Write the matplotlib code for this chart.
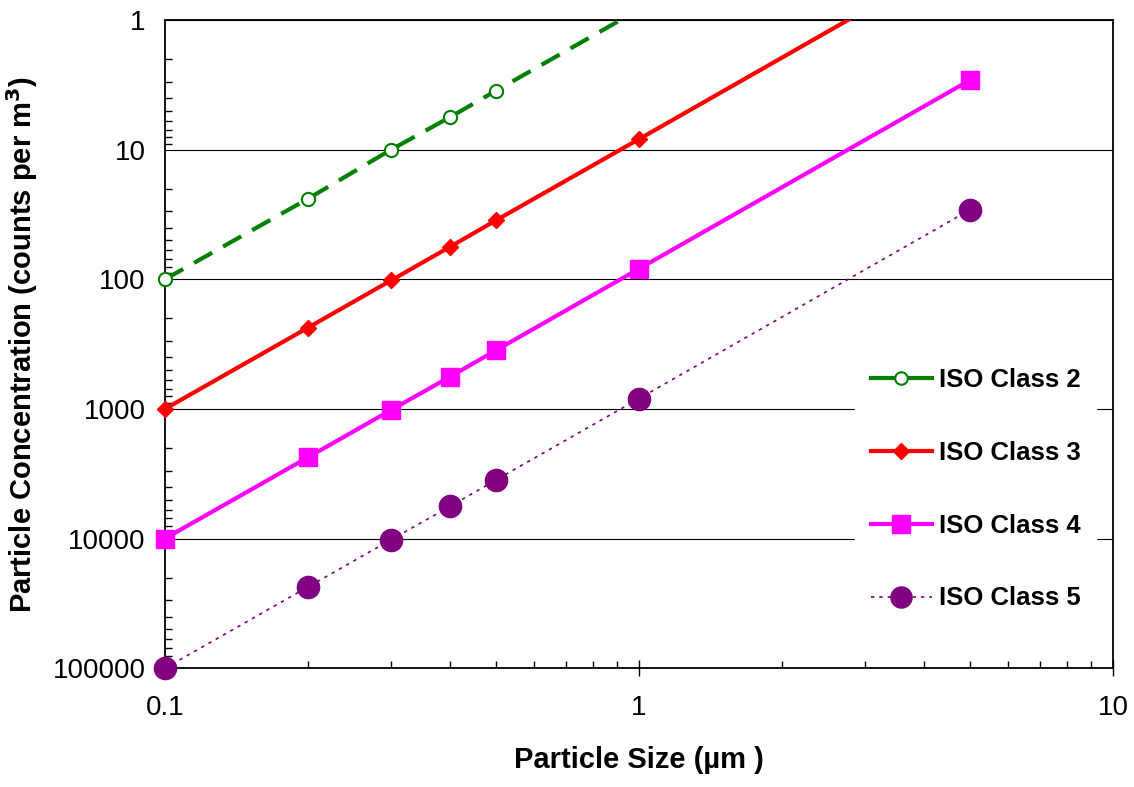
import numpy as np
import matplotlib.pyplot as plt
from matplotlib.lines import Line2D
import matplotlib as mpl

mpl.rcParams['font.family'] = ['Liberation Sans', 'DejaVu Sans']

sizes = [0.1, 0.2, 0.3, 0.4, 0.5, 1, 5]
class2 = [100, 24, 10, 5.6, 3.5, 0.83, 0.029]
class3 = [1000, 237, 102, 56, 35, 8.3, 0.29]
class4 = [10000, 2370, 1020, 563, 352, 83, 2.9]
class5 = [100000, 23700, 10200, 5630, 3520, 832, 29]
labels = ['ISO Class 2', 'ISO Class 3', 'ISO Class 4', 'ISO Class 5']
yticks = [1, 10, 100, 1000, 10000, 100000]
xticks = [0.1, 1, 10]

fig = plt.figure(figsize=(11.34, 7.87), dpi=100)
ax = fig.add_axes([0.1455, 0.151, 0.836, 0.8236])

styles = [
    dict(color='#008000', lw=3, ls=(0, (5, 3)), marker='o', ms=9.5, mfc='white', mew=1.5),
    dict(color='#FF0000', lw=3, ls='-', marker='D', ms=8.5, mfc='#FF0000', mew=1),
    dict(color='#FF00FF', lw=3, ls='-', marker='s', ms=13, mfc='#FF00FF', mew=1),
    dict(color='#800080', lw=1.2, ls=(0, (2, 3)), marker='o', ms=16, mfc='#800080', mew=1),
]
series = [class2, class3, class4, class5]

handles = []
for vals, st, lab in zip(series, styles, labels):
    ax.plot(sizes, vals, color=st['color'], lw=st['lw'], ls=st['ls'], zorder=3)
    shown = np.ma.masked_less(np.array(vals, dtype=float), 1)
    ax.plot(sizes, shown, ls='none', marker=st['marker'], ms=st['ms'], mfc=st['mfc'],
            mec=st['color'], mew=st['mew'], clip_on=False, zorder=4)
    hls = '-' if st['lw'] > 2 else (0, (2, 3))
    handles.append(Line2D([], [], color=st['color'], lw=st['lw'], ls=hls, marker=st['marker'],
                          ms=st['ms'] * 0.95, mfc=st['mfc'], mec=st['color'], mew=st['mew']))

ax.set_xscale('log'); ax.set_yscale('log')
ax.set_xlim(0.1, 10); ax.set_ylim(100000, 1)
ax.set_xticks(xticks); ax.set_xticklabels(['0.1', '1', '10'])
ax.set_yticks(yticks); ax.set_yticklabels([str(v) for v in yticks])
ax.yaxis.grid(True, which='major', color='black', lw=0.8)
ax.set_axisbelow(True)
ax.tick_params(axis='x', which='major', direction='inout', length=11, width=1, labelsize=20, pad=14, top=False)
ax.tick_params(axis='x', which='minor', direction='in', length=5, width=1, top=False)
ax.tick_params(axis='y', which='major', direction='in', length=0, labelsize=20, pad=14, right=False)
ax.tick_params(axis='y', which='minor', direction='in', length=5, width=1, right=False)
ax.yaxis.set_minor_formatter(mpl.ticker.NullFormatter())
ax.xaxis.set_minor_formatter(mpl.ticker.NullFormatter())
for s in ax.spines.values():
    s.set_linewidth(1.3)

ax.set_xlabel('Particle Size (\u00b5m )', fontsize=21, fontweight='bold', labelpad=18)
ax.set_ylabel('Particle Concentration (counts per m$^\\mathbf{3}$)', fontsize=21, fontweight='bold', labelpad=9)

leg = ax.legend(handles, labels, loc='center left', bbox_to_anchor=(0.728, 0.276), borderaxespad=0,
                frameon=True, facecolor='white', edgecolor='white', framealpha=1, fancybox=False,
                prop={'size': 18.5, 'weight': 'bold'}, labelspacing=1.9, handlelength=2.4,
                handletextpad=0.25, borderpad=0.6)
leg.set_zorder(5)

fig.savefig('out.png', dpi=100)
